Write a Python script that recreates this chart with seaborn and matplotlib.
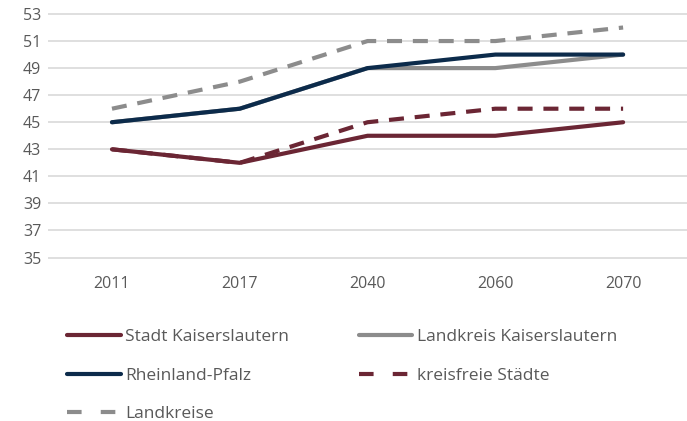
import pandas as pd
import seaborn as sns
import matplotlib.pyplot as plt

# Data
years = ['2011', '2017', '2040', '2060', '2070']
stadt_kl = [43, 42, 44, 44, 45]
landkreis_kl = [45, 46, 49, 49, 50]
rlp = [45, 46, 49, 50, 50]
kreisfreie = [43, 42, 45, 46, 46]
landkreise = [46, 48, 51, 51, 52]

series = ['Stadt Kaiserslautern', 'Landkreis Kaiserslautern', 'Rheinland-Pfalz',
          'kreisfreie Städte', 'Landkreise']
values = [stadt_kl, landkreis_kl, rlp, kreisfreie, landkreise]

df = pd.DataFrame({'year': years * len(series),
                   'series': [s for s in series for _ in years],
                   'value': [v for vals in values for v in vals]})

red = '#6B2634'
grey = '#8C8C8C'
navy = '#0C2B4B'
colors = {series[0]: red, series[1]: grey, series[2]: navy, series[3]: red, series[4]: grey}
dashes = {series[0]: '', series[1]: '', series[2]: '', series[3]: (3.6, 2.6), series[4]: (3.6, 2.6)}

sns.set_style('white')
plt.rcParams['font.family'] = ['Open Sans', 'DejaVu Sans']

fig = plt.figure(figsize=(6.87, 4.21), dpi=100)
ax = fig.add_axes([0.07, 0.385, 0.93, 0.585])

sns.lineplot(data=df, x='year', y='value', hue='series', style='series',
             palette=colors, dashes=dashes, hue_order=series, style_order=series,
             linewidth=3, ax=ax, sort=False)

ax.set_xlim(-0.5, 4.5)
ax.set_ylim(34.9, 53.1)
ax.set_yticks(range(35, 54, 2))
ax.yaxis.grid(True, color='#D9D9D9', linewidth=1.2)
ax.xaxis.grid(False)
for sp in ax.spines.values():
    sp.set_visible(False)
ax.set_xlabel('')
ax.set_ylabel('')
ax.tick_params(axis='both', length=0, colors='#595959', labelsize=11.5)
ax.tick_params(axis='x', pad=12)
ax.tick_params(axis='y', pad=5)

handles, labels = ax.get_legend_handles_labels()
ax.get_legend().remove()
for h in handles:
    h.set_linewidth(3)
# matplotlib fills legend columns first, reorder so rows read like the reference
order = [0, 2, 4, 1, 3]
leg = fig.legend([handles[i] for i in order], [labels[i] for i in order], ncol=2,
                 loc='upper left', bbox_to_anchor=(0.075, 0.255),
                 frameon=False, fontsize=12.5, handlelength=3.1, handletextpad=0.25,
                 columnspacing=4.0, labelspacing=1.28, labelcolor='#595959')
# two dashes per legend key, like the original
for line, lab in zip(leg.get_lines(), leg.get_texts()):
    if lab.get_text() in ('kreisfreie Städte', 'Landkreise'):
        line.set_dashes((3.5, 4.6))

fig.savefig('out.png', dpi=100)
